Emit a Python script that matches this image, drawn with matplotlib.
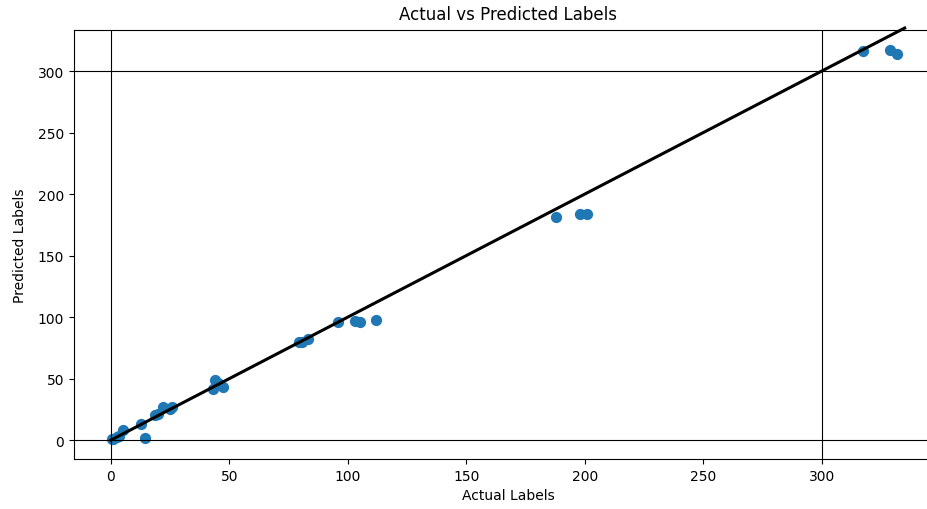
import matplotlib.pyplot as plt

# actual vs predicted values
actual = [0.5, 1.0, 2.4, 3.2, 5.2, 12.9, 14.3, 18.6, 20.0, 22.0, 24.9, 25.6,
          43.0, 43.9, 44.3, 45.2, 47.3, 79.5, 80.5, 83.3, 95.9, 103.0, 105.0,
          111.8, 187.8, 197.9, 201.0, 317.4, 328.7, 331.8]
predicted = [0.5, 1.0, 2.4, 3.6, 8.4, 13.0, 1.6, 20.3, 21.5, 26.5, 25.5, 26.8,
             41.5, 48.8, 44.7, 46.0, 43.0, 80.0, 79.4, 82.0, 95.7, 97.0, 96.2,
             97.8, 181.0, 183.7, 183.7, 316.5, 317.0, 313.8]

# ideal y = x reference
line_x = [0, 335]
ticks = [0, 50, 100, 150, 200, 250, 300]

fig = plt.figure(figsize=(9.28, 5.1), dpi=100)
ax = fig.add_axes([0.0797, 0.098, 0.936, 0.841])

ax.scatter(actual, predicted, s=50, color="#1f77b4")
ax.plot(line_x, line_x, color="black", linewidth=2.2, clip_on=False)

for v in (0, 300):
    ax.axhline(v, color="black", linewidth=0.8)
    ax.axvline(v, color="black", linewidth=0.8)

ax.set_xticks(ticks)
ax.set_yticks(ticks)
ax.set_xlim(-15.6, 351)
ax.set_ylim(-15.4, 333.3)
ax.set_xlabel("Actual Labels")
ax.set_ylabel("Predicted Labels", labelpad=8)
ax.set_title("Actual vs Predicted Labels", pad=8)

fig.savefig("out.png", dpi=100)
